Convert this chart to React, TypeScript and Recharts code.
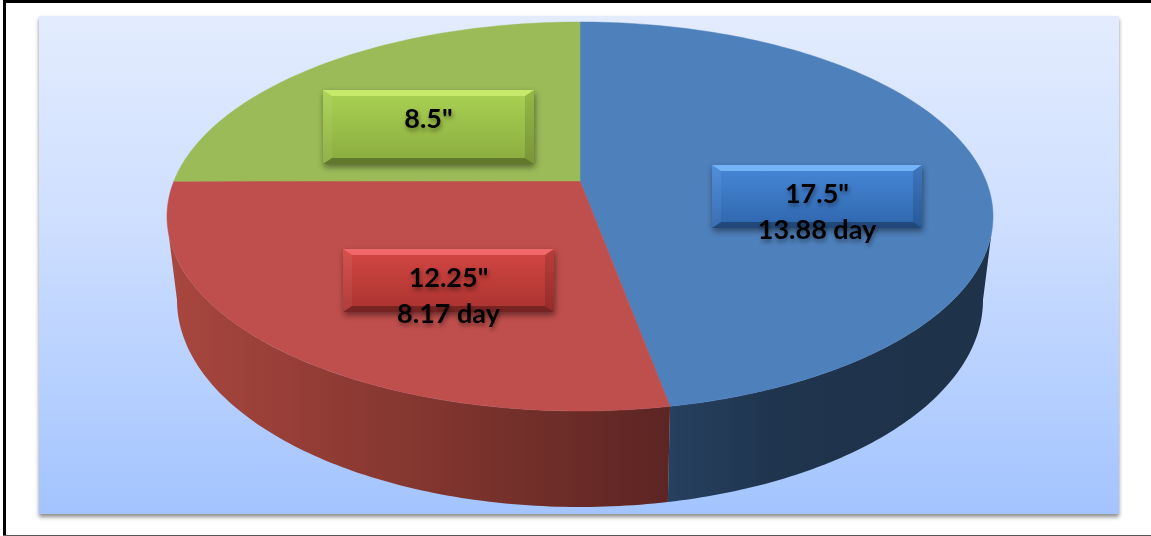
import { Pie, PieChart } from "recharts";

const sizes = [17.5, 12.25, 8.5];
const days: (number | null)[] = [13.88, 8.17, null];
const topColors = ["#4e80bc", "#bf4f4c", "#9bbb59"];
const wallStops = [
  ["#26405f", "#1f344d", "#1e3349"],
  ["#a8463f", "#83362f", "#5c2523"],
  ["#9bbb59", "#9bbb59", "#9bbb59"],
];
// top edge, face-top, face-bottom
const bevelColors = [
  ["#74b4f6", "#4787d7", "#2f66ad"],
  ["#f0686a", "#d34642", "#aa3330"],
  ["#c8ea6c", "#aad252", "#8aab40"],
];
const labelBoxes = [
  { x: 712, y: 165, w: 210, h: 63 },
  { x: 343, y: 249, w: 211, h: 63 },
  { x: 323, y: 90, w: 211, h: 74 },
];

const rows = sizes.map((inches, i) => ({ name: `s${i}`, inches, day: days[i] }));

// Pie geometry: the disc is an ellipse, its apex sits above the ellipse centre
const CX = 580;
const CY = 216.5;
const RX = 413;
const RY = 194.5;
const APEX_Y = 181;
const BOTTOM_CY = 300;
const BOTTOM_RX = 403;
const BOTTOM_RY = 207;

const rad = (d: number) => (d * Math.PI) / 180;

// perspective pushes the near half of the disc round a little
const warp = (deg: number) => {
  const s = (1 - Math.cos(rad(deg))) / 2;
  return deg + 2.8 * s * s;
};

const arc = (from: number, to: number, cy: number, rx: number, ry: number) => {
  const pts: string[] = [];
  const dir = to >= from ? 1 : -1;
  const n = Math.max(1, Math.ceil(Math.abs(to - from)));
  for (let i = 0; i <= n; i++) {
    const t = rad(from + (dir * Math.abs(to - from) * i) / n);
    pts.push(`${(CX + rx * Math.sin(t)).toFixed(2)},${(cy - ry * Math.cos(t)).toFixed(2)}`);
  }
  return pts;
};

const SliceShape = (props: any) => {
  const i = rows.findIndex((r) => r.name === props.name);
  const t1 = warp(90 - props.startAngle);
  const t2 = warp(90 - props.endAngle);
  const fill = topColors[i];
  const top = arc(t1, t2, CY, RX, RY);

  // only the front of the disc has a visible wall
  const wTop1 = Math.max(t1, 95);
  const wTop2 = Math.min(t2, 265);
  const wBot1 = Math.max(t1, 90);
  const wBot2 = Math.min(t2, 270);
  const hasWall = wTop2 > wTop1;
  const wall = hasWall
    ? [
        ...arc(wTop1, wTop2, CY, RX, RY),
        ...arc(wBot2, wBot1, BOTTOM_CY, BOTTOM_RX, BOTTOM_RY),
      ]
    : [];
  const gradId = `wall-${i}`;

  return (
    <g>
      <defs>
        <linearGradient
          id={gradId}
          gradientUnits="userSpaceOnUse"
          x1={i === 0 ? 670 : 170}
          y1={0}
          x2={i === 0 ? 990 : 670}
          y2={0}
        >
          <stop offset="0%" stopColor={wallStops[i][0]} />
          <stop offset={i === 0 ? "35%" : "50%"} stopColor={wallStops[i][1]} />
          <stop offset="100%" stopColor={wallStops[i][2]} />
        </linearGradient>
      </defs>
      {hasWall && <polygon points={wall.join(" ")} fill={`url(#${gradId})`} />}
      <polygon
        points={[`${CX},${APEX_Y}`, ...top].join(" ")}
        fill={fill}
        stroke={fill}
        strokeWidth={0.5}
      />
    </g>
  );
};

const BevelLabel = (props: any) => {
  const i = props.index;
  const { x, y, w, h } = labelBoxes[i];
  const [topEdge, faceTop, faceBottom] = bevelColors[i];
  const bx = 9;
  const by = 6;
  const x2 = x + w;
  const y2 = y + h;
  const midX = x + w / 2;
  const textStyle = {
    fontFamily: "Lato, 'Open Sans', sans-serif",
    fontWeight: 700,
    fontSize: 27,
    fill: "#000",
    filter: "drop-shadow(1px 3px 2px rgba(0,0,0,0.4))",
  };
  return (
    <g>
      <defs>
        <linearGradient id={`face-${i}`} x1="0" y1="0" x2="0" y2="1">
          <stop offset="0%" stopColor={faceTop} />
          <stop offset="100%" stopColor={faceBottom} />
        </linearGradient>
      </defs>
      <g style={{ filter: "drop-shadow(1px 3px 3px rgba(0,0,0,0.45))" }}>
        <rect x={x} y={y} width={w} height={h} fill={`url(#face-${i})`} />
      </g>
      {/* soft bevel edges over the face */}
      <g style={{ filter: "blur(0.6px)" }}>
        <polygon points={`${x},${y} ${x2},${y} ${x2 - bx},${y + by} ${x + bx},${y + by}`} fill={topEdge} />
        <polygon
          points={`${x},${y} ${x + bx},${y + by} ${x + bx},${y2 - by} ${x},${y2}`}
          fill="#fff"
          fillOpacity={0.06}
        />
        <polygon
          points={`${x2},${y} ${x2},${y2} ${x2 - bx},${y2 - by} ${x2 - bx},${y + by}`}
          fill="#000"
          fillOpacity={0.12}
        />
        <polygon
          points={`${x},${y2} ${x + bx},${y2 - by} ${x2 - bx},${y2 - by} ${x2},${y2}`}
          fill="#000"
          fillOpacity={0.3}
        />
      </g>
      <text x={midX} y={y + 38} textAnchor="middle" style={textStyle}>
        {`${sizes[i]}"`}
      </text>
      {days[i] !== null && (
        <text x={midX} y={y + 73.5} textAnchor="middle" style={textStyle}>
          {`${days[i]} day`}
        </text>
      )}
    </g>
  );
};

export default function App() {
  return (
    <div
      style={{
        position: "absolute",
        left: 0,
        top: 0,
        width: 1151,
        height: 536,
        background: "#fff",
        overflow: "hidden",
      }}
    >
      {/* frame edges */}
      <div style={{ position: "absolute", left: 3, top: 0, width: 1148, height: 3, background: "#000" }} />
      <div style={{ position: "absolute", left: 3, top: 0, width: 3, height: 536, background: "#000" }} />
      <div style={{ position: "absolute", left: 3, top: 535, width: 1148, height: 1, background: "#555" }} />
      <div
        style={{
          position: "absolute",
          left: 39,
          top: 16,
          width: 1080,
          height: 498,
          background: "linear-gradient(180deg, #e3ecfe 0%, #cfdfff 40%, #a3c4ff 100%)",
          boxShadow: "0 3px 4px rgba(0,0,0,0.45)",
        }}
      />
      <div style={{ position: "absolute", left: 0, top: 0 }}>
        <PieChart width={1151} height={536} margin={{ top: 0, right: 0, bottom: 0, left: 0 }}>
          <Pie
            data={rows}
            dataKey="inches"
            nameKey="name"
            cx={CX}
            cy={CY}
            outerRadius={RX}
            startAngle={90}
            endAngle={-270}
            stroke="none"
            shape={SliceShape}
            label={BevelLabel}
            labelLine={false}
            isAnimationActive={false}
          />
        </PieChart>
      </div>
    </div>
  );
}
